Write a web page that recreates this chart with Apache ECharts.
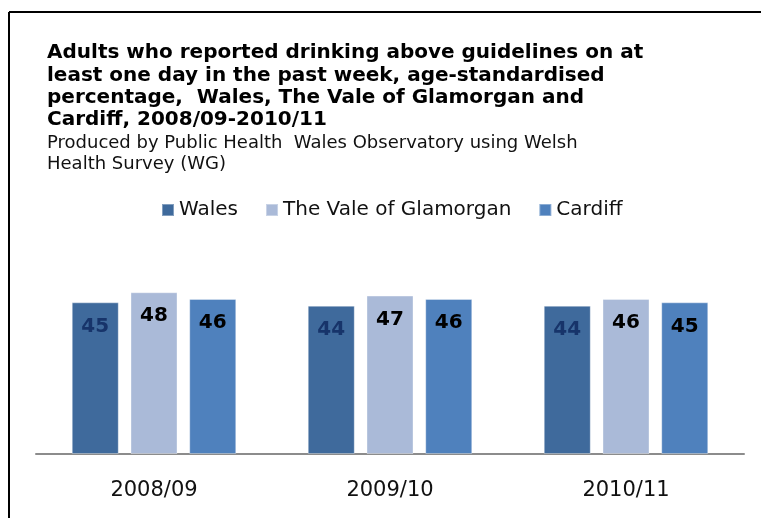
<!DOCTYPE html>
<html>
<head>
<meta charset="utf-8">
<script src="https://cdn.jsdelivr.net/npm/echarts@6/dist/echarts.min.js"></script>
<style>html,body{margin:0;padding:0;background:#fff}#c{width:761px;height:518px}</style>
</head>
<body>
<div id="c"></div>
<script>
const categories = ['2008/09', '2009/10', '2010/11'];
const seriesNames = ['Wales', 'The Vale of Glamorgan', 'Cardiff'];
const walesValues = [45, 44, 44];
const valeValues = [48, 47, 46];
const cardiffValues = [46, 46, 45];
const titleLines = [
  'Adults who reported drinking above guidelines on at',
  'least one day in the past week, age-standardised',
  'percentage,  Wales, The Vale of Glamorgan and',
  'Cardiff, 2008/09-2010/11'
];
const subtitleLines = [
  'Produced by Public Health  Wales Observatory using Welsh',
  'Health Survey (WG)'
];

const colors = ['#3F6A9C', '#AABAD8', '#4F81BD'];
const labelColors = ['#17346A', '#000000', '#000000'];
const valuesList = [walesValues, valeValues, cardiffValues];
const FONT = 'DejaVu Sans';

const chart = echarts.init(document.getElementById('c'));
chart.setOption({
  animation: false,
  backgroundColor: '#ffffff',
  textStyle: { fontFamily: FONT },
  title: [
    {
      text: titleLines.join('\n'),
      left: 47, top: 42, padding: 0,
      textStyle: { fontFamily: FONT, fontSize: 20, fontWeight: 'bold', color: '#000', lineHeight: 22.2 }
    },
    {
      text: subtitleLines.join('\n'),
      left: 47, top: 132, padding: 0,
      textStyle: { fontFamily: FONT, fontSize: 18, fontWeight: 'normal', color: '#111', lineHeight: 21.7 }
    }
  ],
  legend: {
    top: 200, left: 161, padding: 0,
    itemWidth: 12, itemHeight: 12, itemGap: 27,
    icon: 'rect',
    textStyle: { fontFamily: FONT, fontSize: 20, color: '#111' },
    data: seriesNames
  },
  grid: { left: 36, right: 17, top: 117, bottom: 64, containLabel: false },
  xAxis: {
    type: 'category',
    data: categories,
    axisLine: { lineStyle: { color: '#8c8c8c', width: 2 } },
    axisTick: { show: false },
    axisLabel: { fontFamily: FONT, fontSize: 21, color: '#111', margin: 26 }
  },
  yAxis: {
    type: 'value', min: 0, max: 100,
    show: false, splitLine: { show: false }
  },
  graphic: [
    { type: 'line', shape: { x1: 9, y1: 12, x2: 761, y2: 12 }, style: { stroke: '#000', lineWidth: 2 } },
    { type: 'line', shape: { x1: 9, y1: 12, x2: 9, y2: 518 }, style: { stroke: '#000', lineWidth: 2 } }
  ],
  series: seriesNames.map((name, i) => ({
    name: name,
    type: 'bar',
    data: valuesList[i],
    barWidth: 47,
    barGap: '25%',
    itemStyle: { color: colors[i], borderColor: 'rgba(255,255,255,0.35)', borderWidth: 1 },
    label: {
      show: true, position: 'insideTop', distance: 14,
      fontFamily: FONT, fontSize: 20, fontWeight: 'bold', color: labelColors[i]
    }
  }))
});
</script>
</body>
</html>
